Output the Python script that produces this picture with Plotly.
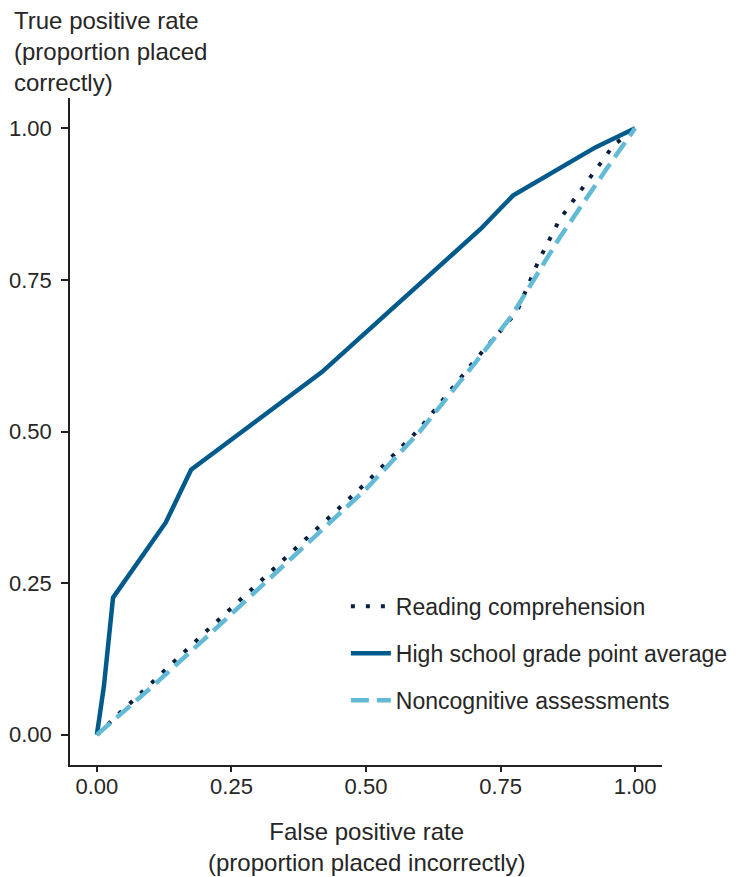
import plotly.graph_objects as go

# --- data ---
reading_fpr = [0, 0.1, 0.2, 0.3, 0.4, 0.5, 0.6, 0.7, 0.78, 0.82, 0.86, 0.91, 0.96, 1.0]
reading_tpr = [0, 0.085, 0.168, 0.25, 0.333, 0.415, 0.505, 0.615, 0.697, 0.78, 0.85, 0.912, 0.972, 1.0]

gpa_fpr = [0, 0.013, 0.03, 0.128, 0.175, 0.418, 0.713, 0.773, 0.927, 1.0]
gpa_tpr = [0, 0.08, 0.226, 0.35, 0.437, 0.598, 0.834, 0.889, 0.969, 1.0]

noncog_fpr = [0, 0.1, 0.2, 0.3, 0.4, 0.5, 0.6, 0.7, 0.77, 0.8, 0.86, 0.95, 1.0]
noncog_tpr = [0, 0.077, 0.158, 0.241, 0.322, 0.405, 0.5, 0.61, 0.69, 0.733, 0.82, 0.937, 1.0]

tick_vals = [0, 0.25, 0.5, 0.75, 1.0]
tick_text = ["0.00", "0.25", "0.50", "0.75", "1.00"]

series_names = ["Reading comprehension", "High school grade point average", "Noncognitive assessments"]

FONT = "Liberation Sans, Arial, sans-serif"
TXT = "#262626"

fig = go.Figure()
fig.add_trace(go.Scatter(x=reading_fpr, y=reading_tpr, mode="lines", name=series_names[0],
                         legendgroup="a",
                         line=dict(color="#0B1F3F", width=4, dash="4px,11px")))
fig.add_trace(go.Scatter(x=gpa_fpr, y=gpa_tpr, mode="lines", name=series_names[1],
                         legendgroup="b",
                         line=dict(color="#005A8C", width=4.5)))
fig.add_trace(go.Scatter(x=noncog_fpr, y=noncog_tpr, mode="lines", name=series_names[2],
                         legendgroup="c",
                         line=dict(color="#63BAD6", width=4.5, dash="18px,8px")))

axis_common = dict(
    range=[-0.05, 1.05], showgrid=False, zeroline=False, automargin=False,
    showline=True, linecolor="#222222", linewidth=1.5,
    ticks="outside", tickwidth=1.5, tickcolor="#222222",
    tickvals=tick_vals, ticktext=tick_text,
    tickfont=dict(family=FONT, size=22, color=TXT),
)

fig.update_layout(
    width=754, height=877,
    margin=dict(l=70, r=92, t=98, b=112),
    paper_bgcolor="white", plot_bgcolor="white",
    xaxis=dict(**axis_common, ticklen=5, ticklabelstandoff=-4),
    yaxis=dict(**axis_common, ticklen=7, ticklabelstandoff=5),
    font=dict(family=FONT, color=TXT),
    showlegend=True,
    legend=dict(x=0.466, xanchor="left", y=0.27, yanchor="top",
                font=dict(family=FONT, size=23, color=TXT),
                bgcolor="rgba(0,0,0,0)", tracegroupgap=14, itemwidth=40),
    annotations=[
        dict(text="True positive rate<br>(proportion placed<br>correctly)",
             xref="paper", yref="paper", x=0, y=1, xanchor="left", yanchor="top",
             xshift=-58, yshift=93, align="left", showarrow=False,
             font=dict(family=FONT, size=24, color=TXT)),
        dict(text="False positive rate<br>(proportion placed incorrectly)",
             xref="paper", yref="paper", x=0.5, y=0, xanchor="center", yanchor="top",
             yshift=-51, align="center", showarrow=False,
             font=dict(family=FONT, size=24, color=TXT)),
    ],
)

fig.write_html("out.html",
               config={"displayModeBar": False},
               post_script="document.body.style.margin='0';document.body.style.padding='0';")
